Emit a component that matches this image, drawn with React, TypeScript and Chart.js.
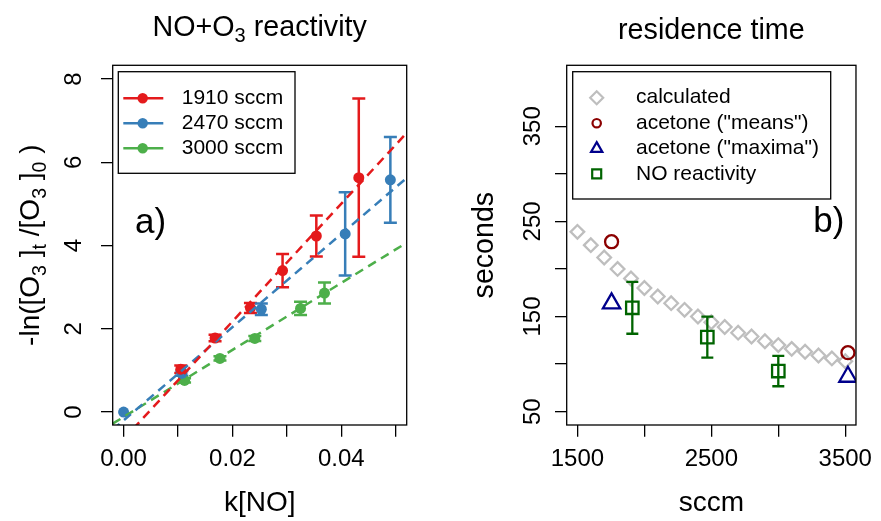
import React, { useEffect, useRef } from "react";
import { Chart, registerables } from "chart.js";

Chart.register(...registerables);

const FONT = "'Liberation Sans', Arial, Helvetica, sans-serif";

// ---------- Panel a) NO+O3 reactivity ----------
const X_TICKS_A = [0, 0.01, 0.02, 0.03, 0.04, 0.05];
const X_TICK_LABELS_A = ["0.00", "", "0.02", "", "0.04", ""];
const Y_TICKS_A = [0, 2, 4, 6, 8];
const Y_TICK_LABELS_A = ["0", "2", "4", "6", "8"];

const SERIES_NAMES = ["1910 sccm", "2470 sccm", "3000 sccm"];
const SERIES_COLORS = ["#E41A1C", "#377EB8", "#4DAF4A"];

const KNO_1910 = [0.0105, 0.0168, 0.0233, 0.0292, 0.0354, 0.0432];
const LN_1910 = [1.03, 1.78, 2.5, 3.4, 4.23, 5.63];
const ERR_1910 = [0.09, 0.08, 0.12, 0.4, 0.49, 1.9];

const KNO_2470 = [0, 0.0107, 0.0253, 0.0407, 0.049];
const LN_2470 = [0.0, 0.93, 2.47, 4.28, 5.58];
const ERR_2470 = [0, 0.06, 0.14, 1.0, 1.03];

const KNO_3000 = [0.0112, 0.0177, 0.0241, 0.0325, 0.0369];
const LN_3000 = [0.76, 1.29, 1.77, 2.49, 2.86];
const ERR_3000 = [0.05, 0.05, 0.06, 0.16, 0.25];

const FIT_SLOPE = [141.5, 112, 80.5];
const FIT_INTERCEPT = [-0.652, -0.2, -0.117];

// ---------- Panel b) residence time ----------
const X_TICKS_B = [1500, 2000, 2500, 3000, 3500];
const X_TICK_LABELS_B = ["1500", "", "2500", "", "3500"];
const Y_TICKS_B = [50, 100, 150, 200, 250, 300, 350];
const Y_TICK_LABELS_B = ["50", "", "150", "", "250", "", "350"];

const FLOW_CALC = [1500, 1600, 1700, 1800, 1900, 2000, 2100, 2200, 2300, 2400, 2500, 2600, 2700, 2800, 2900, 3000, 3100, 3200, 3300, 3400, 3500];
const TAU_CALC = [239, 225, 212, 200, 190, 180, 171, 164, 157, 150, 144, 139, 133, 129, 124, 120, 116, 113, 109, 106, 103];

const FLOW_MEANS = [1755, 3520];
const TAU_MEANS = [228.6, 112];

const FLOW_MAXIMA = [1755, 3520];
const TAU_MAXIMA = [163.8, 86.7];

const FLOW_NO = [1910, 2470, 3000];
const TAU_NO = [159.2, 128.4, 92.7];
const ERR_NO = [27.3, 21.5, 16];

const LEGEND_B = ["calculated", 'acetone ("means")', 'acetone ("maxima")', "NO reactivity"];
const COLORS_B = ["#BEBEBE", "#8B0000", "#00008B", "#006400"];

// ---------- helpers ----------
type Seg = [string, boolean];

function drawRich(ctx: CanvasRenderingContext2D, segs: Seg[], cx: number, y: number, size: number, subSize: number, subDrop: number) {
  let total = 0;
  const widths = segs.map(([t, sub]) => {
    ctx.font = `${sub ? subSize : size}px ${FONT}`;
    const w = ctx.measureText(t).width;
    total += w;
    return w;
  });
  let x = cx - total / 2;
  ctx.textAlign = "left";
  ctx.textBaseline = "alphabetic";
  segs.forEach(([t, sub], i) => {
    ctx.font = `${sub ? subSize : size}px ${FONT}`;
    ctx.fillText(t, x, y + (sub ? subDrop : 0));
    x += widths[i];
  });
}

function drawYTickLabels(ctx: CanvasRenderingContext2D, yScale: any, ticks: number[], labels: string[], baseX: number) {
  ctx.save();
  ctx.font = `24px ${FONT}`;
  ctx.fillStyle = "#000";
  ctx.textAlign = "center";
  ctx.textBaseline = "alphabetic";
  ticks.forEach((t, i) => {
    if (!labels[i]) return;
    const py = yScale.getPixelForValue(t);
    ctx.save();
    ctx.translate(baseX, py);
    ctx.rotate(-Math.PI / 2);
    ctx.fillText(labels[i], 0, 0);
    ctx.restore();
  });
  ctx.restore();
}

function drawBox(ctx: CanvasRenderingContext2D, area: any) {
  ctx.save();
  ctx.strokeStyle = "#000";
  ctx.lineWidth = 1.3;
  ctx.strokeRect(area.left, area.top, area.right - area.left, area.bottom - area.top);
  ctx.restore();
}

const tickGrid = {
  display: true,
  drawOnChartArea: false,
  drawTicks: true,
  tickLength: 11.7,
  color: "#000",
  lineWidth: 1.3,
};

function makeLeftConfig() {
  const XMIN = -0.002, XMAX = 0.052, YMIN = -0.31, YMAX = 8.33;
  const series = [
    { x: KNO_1910, y: LN_1910, e: ERR_1910 },
    { x: KNO_2470, y: LN_2470, e: ERR_2470 },
    { x: KNO_3000, y: LN_3000, e: ERR_3000 },
  ];
  const fitSets = FIT_SLOPE.map((b, i) => ({
    type: "line",
    data: [
      { x: XMIN, y: FIT_INTERCEPT[i] + b * XMIN },
      { x: XMAX, y: FIT_INTERCEPT[i] + b * XMAX },
    ],
    borderColor: SERIES_COLORS[i],
    borderWidth: 2.5,
    borderDash: [9, 6],
    pointRadius: 0,
    fill: false,
    clip: 0,
    order: 0,
  }));
  const pointSets = series.map((s, i) => ({
    type: "scatter",
    data: s.x.map((x, j) => ({ x, y: s.y[j] })),
    pointRadius: 5.5,
    pointStyle: "circle",
    backgroundColor: SERIES_COLORS[i],
    borderColor: SERIES_COLORS[i],
    borderWidth: 0,
    showLine: false,
    order: 1,
  }));

  const plugin = {
    id: "leftDecor",
    beforeDatasetsDraw(chart: any) {
      const { ctx, scales } = chart;
      const x = scales.x, y = scales.y;
      ctx.save();
      ctx.lineWidth = 2.5;
      series.forEach((s, i) => {
        ctx.strokeStyle = SERIES_COLORS[i];
        s.x.forEach((xv, j) => {
          if (!s.e[j]) return;
          const px = x.getPixelForValue(xv);
          const lo = y.getPixelForValue(s.y[j] - s.e[j]);
          const hi = y.getPixelForValue(s.y[j] + s.e[j]);
          ctx.beginPath();
          ctx.moveTo(px, lo);
          ctx.lineTo(px, hi);
          ctx.moveTo(px - 6.5, lo);
          ctx.lineTo(px + 6.5, lo);
          ctx.moveTo(px - 6.5, hi);
          ctx.lineTo(px + 6.5, hi);
          ctx.stroke();
        });
      });
      ctx.restore();
    },
    afterDraw(chart: any) {
      const { ctx, chartArea, scales } = chart;
      drawBox(ctx, chartArea);
      drawYTickLabels(ctx, scales.y, Y_TICKS_A, Y_TICK_LABELS_A, 80.5);
      ctx.save();
      ctx.fillStyle = "#000";
      drawRich(ctx, [["NO+O", false], ["3", true], [" reactivity", false]], (chartArea.left + chartArea.right) / 2, 36, 28.7, 20, 6);
      ctx.save();
      ctx.translate(39.3, (chartArea.top + chartArea.bottom) / 2);
      ctx.rotate(-Math.PI / 2);
      drawRich(
        ctx,
        [["-ln([O", false], ["3", true], [" ]", false], ["t", true], [" /[O", false], ["3", true], [" ]", false], ["0", true], [" )", false]],
        0, 0, 28, 19.6, 6.5
      );
      ctx.restore();
      ctx.font = `35px ${FONT}`;
      ctx.textAlign = "left";
      ctx.textBaseline = "alphabetic";
      ctx.fillText("a)", 135, 233);
      // legend
      ctx.strokeStyle = "#000";
      ctx.lineWidth = 1.3;
      ctx.strokeRect(118.3, 71.7, 176.7, 101.6);
      const rows = [98.3, 123.3, 148.3];
      rows.forEach((ry, i) => {
        ctx.strokeStyle = SERIES_COLORS[i];
        ctx.lineWidth = 2.5;
        ctx.beginPath();
        ctx.moveTo(123.3, ry);
        ctx.lineTo(163.3, ry);
        ctx.stroke();
        ctx.fillStyle = SERIES_COLORS[i];
        ctx.beginPath();
        ctx.arc(142.7, ry, 5.2, 0, Math.PI * 2);
        ctx.fill();
        ctx.fillStyle = "#000";
        ctx.font = `21px ${FONT}`;
        ctx.textAlign = "left";
        ctx.textBaseline = "middle";
        ctx.fillText(SERIES_NAMES[i], 181.7, ry);
      });
      ctx.restore();
    },
  };

  return {
    type: "scatter",
    data: { datasets: [...fitSets, ...pointSets] },
    options: {
      animation: false,
      responsive: false,
      devicePixelRatio: 1,
      layout: { padding: { left: 0, right: 33.3, top: 65.3, bottom: 0 } },
      plugins: { legend: { display: false }, tooltip: { enabled: false }, title: { display: false } },
      scales: {
        x: {
          type: "linear",
          min: XMIN,
          max: XMAX,
          afterBuildTicks: (axis: any) => {
            axis.ticks = X_TICKS_A.map((v) => ({ value: v }));
          },
          afterFit: (axis: any) => {
            axis.height = 96;
          },
          grid: tickGrid,
          border: { display: false },
          ticks: {
            autoSkip: false,
            maxRotation: 0,
            minRotation: 0,
            padding: 8.3,
            color: "#000",
            font: { family: FONT, size: 24 },
            callback: (_v: any, i: number) => X_TICK_LABELS_A[i],
          },
          title: { display: true, text: "k[NO]", color: "#000", font: { family: FONT, size: 28 }, padding: { top: 0, bottom: 0.6 } },
        },
        y: {
          type: "linear",
          min: YMIN,
          max: YMAX,
          afterBuildTicks: (axis: any) => {
            axis.ticks = Y_TICKS_A.map((v) => ({ value: v }));
          },
          afterFit: (axis: any) => {
            axis.width = 112.7;
          },
          grid: tickGrid,
          border: { display: false },
          ticks: { display: false },
        },
      },
    },
    plugins: [plugin],
  };
}

function makeRightConfig() {
  const XMIN = 1420, XMAX = 3580, YMIN = 36, YMAX = 414;
  const datasets = [
    {
      type: "scatter",
      data: FLOW_CALC.map((x, j) => ({ x, y: TAU_CALC[j] })),
      pointStyle: "rectRot",
      pointRadius: 6.8,
      borderColor: COLORS_B[0],
      backgroundColor: "rgba(0,0,0,0)",
      borderWidth: 2.3,
      order: 4,
    },
    {
      type: "scatter",
      data: FLOW_MEANS.map((x, j) => ({ x, y: TAU_MEANS[j] })),
      pointStyle: "circle",
      pointRadius: 6.5,
      borderColor: COLORS_B[1],
      backgroundColor: "rgba(0,0,0,0)",
      borderWidth: 2.3,
      order: 3,
    },
    {
      type: "scatter",
      data: FLOW_MAXIMA.map((x, j) => ({ x, y: TAU_MAXIMA[j] })),
      pointStyle: "triangle",
      pointRadius: 10,
      borderColor: COLORS_B[2],
      backgroundColor: "rgba(0,0,0,0)",
      borderWidth: 2.3,
      order: 2,
    },
    {
      type: "scatter",
      data: FLOW_NO.map((x, j) => ({ x, y: TAU_NO[j] })),
      pointStyle: "rect",
      pointRadius: 8.8,
      borderColor: COLORS_B[3],
      backgroundColor: "rgba(0,0,0,0)",
      borderWidth: 2.3,
      order: 1,
    },
  ];

  const plugin = {
    id: "rightDecor",
    afterDatasetsDraw(chart: any) {
      const { ctx, scales } = chart;
      const x = scales.x, y = scales.y;
      ctx.save();
      ctx.strokeStyle = COLORS_B[3];
      ctx.lineWidth = 2.3;
      FLOW_NO.forEach((fv, j) => {
        const px = x.getPixelForValue(fv);
        const lo = y.getPixelForValue(TAU_NO[j] - ERR_NO[j]);
        const hi = y.getPixelForValue(TAU_NO[j] + ERR_NO[j]);
        ctx.beginPath();
        ctx.moveTo(px, lo);
        ctx.lineTo(px, hi);
        ctx.moveTo(px - 6, lo);
        ctx.lineTo(px + 6, lo);
        ctx.moveTo(px - 6, hi);
        ctx.lineTo(px + 6, hi);
        ctx.stroke();
      });
      ctx.restore();
    },
    afterDraw(chart: any) {
      const { ctx, chartArea, scales } = chart;
      drawBox(ctx, chartArea);
      drawYTickLabels(ctx, scales.y, Y_TICKS_B, Y_TICK_LABELS_B, 100);
      ctx.save();
      ctx.fillStyle = "#000";
      drawRich(ctx, [["residence time", false]], (chartArea.left + chartArea.right) / 2, 38.5, 28.7, 20, 6);
      ctx.save();
      ctx.translate(53.3, (chartArea.top + chartArea.bottom) / 2);
      ctx.rotate(-Math.PI / 2);
      drawRich(ctx, [["seconds", false]], 0, 0, 28.6, 20, 6);
      ctx.restore();
      ctx.font = `35px ${FONT}`;
      ctx.textAlign = "left";
      ctx.textBaseline = "alphabetic";
      ctx.fillText("b)", 373.3, 231.7);
      // legend
      ctx.strokeStyle = "#000";
      ctx.lineWidth = 1.3;
      ctx.strokeRect(132.7, 71.7, 258, 127.3);
      const rows = [97.7, 123.2, 148.6, 173.8];
      const sx = 156.7;
      rows.forEach((ry, i) => {
        ctx.strokeStyle = COLORS_B[i];
        ctx.lineWidth = 2.2;
        ctx.beginPath();
        if (i === 0) {
          const r = 6.5;
          ctx.moveTo(sx - r, ry);
          ctx.lineTo(sx, ry - r);
          ctx.lineTo(sx + r, ry);
          ctx.lineTo(sx, ry + r);
          ctx.closePath();
        } else if (i === 1) {
          ctx.arc(sx, ry, 4.2, 0, Math.PI * 2);
        } else if (i === 2) {
          const r = 6.5;
          ctx.moveTo(sx, ry - r);
          ctx.lineTo(sx + r * Math.sin(Math.PI * 2 / 3), ry + r / 2);
          ctx.lineTo(sx - r * Math.sin(Math.PI * 2 / 3), ry + r / 2);
          ctx.closePath();
        } else {
          ctx.rect(sx - 4.5, ry - 4.5, 9, 9);
        }
        ctx.stroke();
        ctx.fillStyle = "#000";
        ctx.font = `21px ${FONT}`;
        ctx.textAlign = "left";
        ctx.textBaseline = "middle";
        ctx.fillText(LEGEND_B[i], 196, ry);
      });
      ctx.restore();
    },
  };

  return {
    type: "scatter",
    data: { datasets },
    options: {
      animation: false,
      responsive: false,
      devicePixelRatio: 1,
      layout: { padding: { left: 0, right: 20, top: 65.3, bottom: 0 } },
      plugins: { legend: { display: false }, tooltip: { enabled: false }, title: { display: false } },
      scales: {
        x: {
          type: "linear",
          min: XMIN,
          max: XMAX,
          afterBuildTicks: (axis: any) => {
            axis.ticks = X_TICKS_B.map((v) => ({ value: v }));
          },
          afterFit: (axis: any) => {
            axis.height = 96;
          },
          grid: tickGrid,
          border: { display: false },
          ticks: {
            autoSkip: false,
            maxRotation: 0,
            minRotation: 0,
            padding: 8.3,
            color: "#000",
            font: { family: FONT, size: 24 },
            callback: (_v: any, i: number) => X_TICK_LABELS_B[i],
          },
          title: { display: true, text: "sccm", color: "#000", font: { family: FONT, size: 28 }, padding: { top: 0, bottom: 0.6 } },
        },
        y: {
          type: "linear",
          min: YMIN,
          max: YMAX,
          afterBuildTicks: (axis: any) => {
            axis.ticks = Y_TICKS_B.map((v) => ({ value: v }));
          },
          afterFit: (axis: any) => {
            axis.width = 126.7;
          },
          grid: tickGrid,
          border: { display: false },
          ticks: { display: false },
        },
      },
    },
    plugins: [plugin],
  };
}

export default function App() {
  const leftRef = useRef<HTMLCanvasElement>(null);
  const rightRef = useRef<HTMLCanvasElement>(null);
  useEffect(() => {
    const c1 = new Chart(leftRef.current as HTMLCanvasElement, makeLeftConfig() as any);
    const c2 = new Chart(rightRef.current as HTMLCanvasElement, makeRightConfig() as any);
    return () => {
      c1.destroy();
      c2.destroy();
    };
  }, []);
  return (
    <div style={{ position: "fixed", left: 0, top: 0, width: 881, height: 521, background: "#fff" }}>
      <canvas ref={leftRef} width={440} height={521} style={{ position: "absolute", left: 0, top: 0, width: 440, height: 521 }} />
      <canvas ref={rightRef} width={441} height={521} style={{ position: "absolute", left: 440, top: 0, width: 441, height: 521 }} />
    </div>
  );
}
